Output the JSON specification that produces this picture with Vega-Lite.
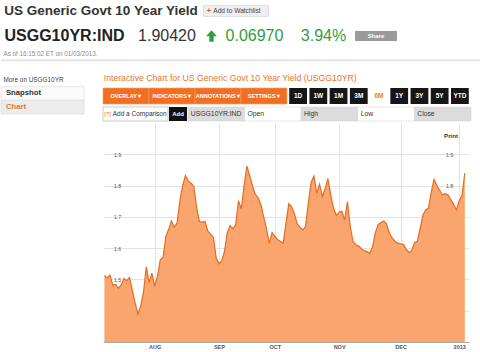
{
"$schema": "https://vega.github.io/schema/vega-lite/v6.json",
"background": "white",
"padding": 0,
"spacing": 0,
"config": {"font": "Liberation Sans", "view": {"stroke": null}, "concat": {"spacing": 0}},
"datasets": {
"yield": [
{"d":"2012-07-06","v":1.513},{"d":"2012-07-09","v":1.505},{"d":"2012-07-10","v":1.514},{"d":"2012-07-11","v":1.482},{"d":"2012-07-12","v":1.484},{"d":"2012-07-13","v":1.472},
{"d":"2012-07-16","v":1.482},{"d":"2012-07-17","v":1.503},{"d":"2012-07-18","v":1.496},{"d":"2012-07-19","v":1.506},{"d":"2012-07-20","v":1.465},
{"d":"2012-07-23","v":1.425},{"d":"2012-07-24","v":1.39},{"d":"2012-07-25","v":1.415},{"d":"2012-07-26","v":1.46},{"d":"2012-07-27","v":1.54},
{"d":"2012-07-30","v":1.49},{"d":"2012-07-31","v":1.52},
{"d":"2012-08-01","v":1.478},{"d":"2012-08-02","v":1.51},{"d":"2012-08-03","v":1.563},
{"d":"2012-08-06","v":1.57},{"d":"2012-08-07","v":1.638},{"d":"2012-08-08","v":1.66},{"d":"2012-08-09","v":1.687},{"d":"2012-08-10","v":1.667},
{"d":"2012-08-13","v":1.68},{"d":"2012-08-14","v":1.75},{"d":"2012-08-15","v":1.80},{"d":"2012-08-16","v":1.832},{"d":"2012-08-17","v":1.815},
{"d":"2012-08-20","v":1.808},{"d":"2012-08-21","v":1.798},{"d":"2012-08-22","v":1.73},{"d":"2012-08-23","v":1.685},{"d":"2012-08-24","v":1.683},
{"d":"2012-08-27","v":1.685},{"d":"2012-08-28","v":1.655},{"d":"2012-08-29","v":1.645},{"d":"2012-08-30","v":1.635},{"d":"2012-08-31","v":1.57},
{"d":"2012-09-03","v":1.55},{"d":"2012-09-04","v":1.56},{"d":"2012-09-05","v":1.59},{"d":"2012-09-06","v":1.65},{"d":"2012-09-07","v":1.672},
{"d":"2012-09-10","v":1.662},{"d":"2012-09-11","v":1.675},{"d":"2012-09-12","v":1.752},{"d":"2012-09-13","v":1.725},{"d":"2012-09-14","v":1.80},
{"d":"2012-09-17","v":1.862},{"d":"2012-09-18","v":1.832},{"d":"2012-09-19","v":1.80},{"d":"2012-09-20","v":1.772},{"d":"2012-09-21","v":1.762},
{"d":"2012-09-24","v":1.74},{"d":"2012-09-25","v":1.70},{"d":"2012-09-26","v":1.662},{"d":"2012-09-27","v":1.615},{"d":"2012-09-28","v":1.65},
{"d":"2012-10-01","v":1.638},{"d":"2012-10-02","v":1.628},{"d":"2012-10-03","v":1.621},{"d":"2012-10-04","v":1.616},{"d":"2012-10-05","v":1.68},
{"d":"2012-10-08","v":1.742},{"d":"2012-10-09","v":1.732},{"d":"2012-10-10","v":1.71},{"d":"2012-10-11","v":1.678},{"d":"2012-10-12","v":1.667},
{"d":"2012-10-15","v":1.658},{"d":"2012-10-16","v":1.67},{"d":"2012-10-17","v":1.745},{"d":"2012-10-18","v":1.81},{"d":"2012-10-19","v":1.83},
{"d":"2012-10-22","v":1.775},{"d":"2012-10-23","v":1.805},{"d":"2012-10-24","v":1.765},{"d":"2012-10-25","v":1.79},{"d":"2012-10-26","v":1.822},
{"d":"2012-10-29","v":1.77},{"d":"2012-10-30","v":1.728},{"d":"2012-10-31","v":1.705},
{"d":"2012-11-01","v":1.715},{"d":"2012-11-02","v":1.718},
{"d":"2012-11-05","v":1.69},{"d":"2012-11-06","v":1.748},{"d":"2012-11-07","v":1.668},{"d":"2012-11-08","v":1.622},{"d":"2012-11-09","v":1.611},
{"d":"2012-11-12","v":1.607},{"d":"2012-11-13","v":1.598},{"d":"2012-11-14","v":1.592},{"d":"2012-11-15","v":1.589},{"d":"2012-11-16","v":1.583},
{"d":"2012-11-19","v":1.605},{"d":"2012-11-20","v":1.65},{"d":"2012-11-21","v":1.676},{"d":"2012-11-22","v":1.682},{"d":"2012-11-23","v":1.687},
{"d":"2012-11-26","v":1.678},{"d":"2012-11-27","v":1.648},{"d":"2012-11-28","v":1.633},{"d":"2012-11-29","v":1.622},{"d":"2012-11-30","v":1.616},
{"d":"2012-12-03","v":1.614},{"d":"2012-12-04","v":1.612},{"d":"2012-12-05","v":1.597},{"d":"2012-12-06","v":1.586},{"d":"2012-12-07","v":1.592},
{"d":"2012-12-10","v":1.618},{"d":"2012-12-11","v":1.622},{"d":"2012-12-12","v":1.662},{"d":"2012-12-13","v":1.705},{"d":"2012-12-14","v":1.722},
{"d":"2012-12-17","v":1.728},{"d":"2012-12-18","v":1.78},{"d":"2012-12-19","v":1.82},{"d":"2012-12-20","v":1.80},{"d":"2012-12-21","v":1.785},
{"d":"2012-12-24","v":1.77},{"d":"2012-12-25","v":1.775},{"d":"2012-12-26","v":1.77},{"d":"2012-12-27","v":1.755},{"d":"2012-12-28","v":1.74},
{"d":"2012-12-31","v":1.722},{"d":"2013-01-01","v":1.752},{"d":"2013-01-02","v":1.768},{"d":"2013-01-03","v":1.84}
]
},
"vconcat": [
{
"hconcat": [
{"width": 200, "height": 22, "data": {"values": [{"t": "US Generic Govt 10 Year Yield"}]},
 "mark": {"type": "text", "fontSize": 13.5, "fontWeight": "bold", "color": "#333333"},
 "encoding": {"text": {"field": "t"}}},
{"width": 70, "height": 22, "data": {"values": [{"t": "+", "kind": "plus"}, {"t": "Add to Watchlist", "kind": "label"}]},
 "encoding": {"x": {"datum": "watch", "type": "nominal", "axis": null, "scale": {"paddingInner": 0, "paddingOuter": 0.0385}},
              "y": {"datum": "watch", "type": "nominal", "axis": null, "scale": {"paddingInner": 0, "paddingOuter": 0.5}}},
 "layer": [
  {"transform": [{"filter": "datum.kind == 'label'"}],
   "mark": {"type": "rect", "fill": "#efefef", "stroke": "#d4d4d4", "strokeWidth": 0.7}},
  {"transform": [{"filter": "datum.kind == 'plus'"}],
   "mark": {"type": "text", "align": "left", "fontSize": 7.5, "fontWeight": "bold", "color": "#e0502a"},
   "encoding": {"text": {"field": "t"}, "x": {"datum": "watch", "type": "nominal", "bandPosition": 0.05}}},
  {"transform": [{"filter": "datum.kind == 'label'"}],
   "mark": {"type": "text", "align": "left", "fontSize": 6.6, "color": "#444444"},
   "encoding": {"text": {"field": "t"}, "x": {"datum": "watch", "type": "nominal", "bandPosition": 0.15}}}
 ]}
], "spacing": 0
},
{
"hconcat": [
{"width": 127, "height": 28, "data": {"values": [{"t": "USGG10YR:IND"}]},
 "mark": {"type": "text", "fontSize": 16, "fontWeight": "bold", "color": "#222222"}, "encoding": {"text": {"field": "t"}}},
{"width": 78, "height": 28, "data": {"values": [{"t": "1.90420"}]},
 "mark": {"type": "text", "fontSize": 16, "color": "#333333"}, "encoding": {"text": {"field": "t"}}},
{"width": 11, "height": 28, "data": {"values": [{"t": "up"}]},
 "mark": {"type": "point", "filled": true, "opacity": 1, "size": 130, "color": "#2f9e3f",
          "shape": "M0,-1L0.95,0.05L0.38,0.05L0.38,1L-0.38,1L-0.38,0.05L-0.95,0.05Z"},
 "encoding": {}},
{"width": 75, "height": 28, "data": {"values": [{"t": "0.06970"}]},
 "mark": {"type": "text", "fontSize": 16, "color": "#2f9e3f"}, "encoding": {"text": {"field": "t"}}},
{"width": 63, "height": 28, "data": {"values": [{"t": "3.94%"}]},
 "mark": {"type": "text", "fontSize": 16, "color": "#2f9e3f"}, "encoding": {"text": {"field": "t"}}},
{"width": 42, "height": 28, "data": {"values": [{"t": "Share"}]},
 "encoding": {"y": {"field": "t", "type": "nominal", "axis": null, "scale": {"paddingInner": 0, "paddingOuter": 0.9}}},
 "layer": [
  {"mark": {"type": "rect", "fill": "#9a9a9a"},
   "encoding": {"x": {"field": "t", "type": "nominal", "axis": null, "scale": {"paddingInner": 0, "paddingOuter": 0}}}},
  {"mark": {"type": "text", "fontSize": 6, "fontWeight": "bold", "color": "#ffffff"}, "encoding": {"text": {"field": "t"}}}
 ]}
], "spacing": 0
},
{"width": 99, "height": 7, "data": {"values": [{"t": "As of 16:15:02 ET on 01/03/2013."}]},
 "mark": {"type": "text", "fontSize": 6.3, "color": "#8a8a8a"}, "encoding": {"text": {"field": "t"}}},
{"width": 480, "height": 5, "data": {"values": [{"t": "separator"}]},
 "mark": {"type": "rect", "fill": "#e2e2e2"},
 "encoding": {"x": {"field": "t", "type": "nominal", "axis": null, "scale": {"paddingInner": 0, "paddingOuter": 0}},
              "y": {"field": "t", "type": "nominal", "axis": null, "scale": {"paddingInner": 0, "paddingOuter": 2, "align": 0.75}}}},
{
"hconcat": [
{"width": 100, "height": 52,
 "data": {"values": [{"t": "More on USGG10YR", "kind": "head"}, {"t": "Snapshot", "kind": "item"}, {"t": "Chart", "kind": "current"}]},
 "encoding": {"y": {"field": "t", "type": "nominal", "axis": null, "scale": {"domain": ["More on USGG10YR", "Snapshot", "Chart"], "paddingInner": 0, "paddingOuter": 0.4, "align": 1}}},
 "layer": [
  {"transform": [{"filter": "datum.kind != 'head'"}],
   "mark": {"type": "rect", "stroke": "#dddddd", "strokeWidth": 0.7},
   "encoding": {"x": {"datum": "side", "type": "nominal", "axis": null, "scale": {"paddingInner": 0, "paddingOuter": 0.1024, "align": 0}},
                "color": {"condition": {"test": "datum.kind == 'current'", "value": "#ececec"}, "value": "#fbfbfb"}}},
  {"transform": [{"filter": "datum.kind == 'head'"}],
   "mark": {"type": "text", "align": "left", "fontSize": 6.4, "color": "#444444"},
   "encoding": {"x": {"datum": "side", "type": "nominal", "bandPosition": 0.03}, "text": {"field": "t"}}},
  {"transform": [{"filter": "datum.kind != 'head'"}],
   "mark": {"type": "text", "align": "left", "fontSize": 7.7, "fontWeight": "bold"},
   "encoding": {"x": {"datum": "side", "type": "nominal", "bandPosition": 0.06}, "text": {"field": "t"},
                "color": {"condition": {"test": "datum.kind == 'current'", "value": "#e8762b"}, "value": "#333333"}}}
 ]},
{
"vconcat": [
 {"width": 366, "height": 25, "data": {"values": [{"t": "Interactive Chart for US Generic Govt 10 Year Yield (USGG10YR)"}]},
  "encoding": {"x": {"datum": "heading", "type": "nominal", "axis": null, "scale": {"paddingInner": 0, "paddingOuter": 0}},
               "y": {"datum": "heading", "type": "nominal", "axis": null, "scale": {"paddingInner": 0, "paddingOuter": 0.75, "align": 0.733}}},
  "layer": [
   {"mark": {"type": "rect", "fill": "#ffffff"}},
   {"mark": {"type": "text", "align": "left", "fontSize": 8.7, "color": "#e8762b"},
    "encoding": {"text": {"field": "t"}, "x": {"datum": "heading", "type": "nominal", "bandPosition": 0.002}}}
  ]},
 {"hconcat": [
  {"width": 184, "height": 17,
   "data": {"values": [{"t": "OVERLAY ▾"}, {"t": "INDICATORS ▾"}, {"t": "ANNOTATIONS ▾"}, {"t": "SETTINGS ▾"}]},
   "encoding": {"x": {"field": "t", "type": "nominal", "axis": null, "sort": null, "scale": {"paddingInner": 0, "paddingOuter": 0}},
                "y": {"datum": "menu", "type": "nominal", "axis": null, "scale": {"paddingInner": 0, "paddingOuter": 0.03125, "align": 0}}},
   "layer": [
    {"mark": {"type": "rect", "fill": "#f26f21", "stroke": "#f7a36b", "strokeWidth": 0.6}},
    {"mark": {"type": "text", "fontSize": 5.6, "fontWeight": "bold", "color": "#ffffff"}, "encoding": {"text": {"field": "t"}}}
   ]},
  {"width": 182, "height": 17,
   "data": {"values": [{"t": "1D", "kind": "r"}, {"t": "1W", "kind": "r"}, {"t": "1M", "kind": "r"}, {"t": "3M", "kind": "r"}, {"t": "6M", "kind": "sel"}, {"t": "1Y", "kind": "r"}, {"t": "3Y", "kind": "r"}, {"t": "5Y", "kind": "r"}, {"t": "YTD", "kind": "r"}]},
   "encoding": {"x": {"field": "t", "type": "nominal", "axis": null, "sort": null, "scale": {"paddingInner": 0.12, "paddingOuter": 0.06}},
                "y": {"datum": "range", "type": "nominal", "axis": null, "scale": {"paddingInner": 0, "paddingOuter": 0.03125, "align": 0}}},
   "layer": [
    {"mark": {"type": "rect"}, "encoding": {"color": {"condition": {"test": "datum.kind == 'sel'", "value": "#ffffff"}, "value": "#161616"}}},
    {"mark": {"type": "text", "fontSize": 6.5, "fontWeight": "bold"},
     "encoding": {"text": {"field": "t"}, "color": {"condition": {"test": "datum.kind == 'sel'", "value": "#f07a2a"}, "value": "#ffffff"}}}
   ]}
 ], "spacing": 0},
 {"hconcat": [
  {"width": 65, "height": 18,
   "data": {"values": [{"t": "[?]", "kind": "icon"}, {"t": "Add a Comparison", "kind": "label"}]},
   "encoding": {"x": {"datum": "input", "type": "nominal", "axis": null, "scale": {"paddingInner": 0, "paddingOuter": 0}},
                "y": {"datum": "input", "type": "nominal", "axis": null, "scale": {"paddingInner": 0, "paddingOuter": 0.143}}},
   "layer": [
    {"transform": [{"filter": "datum.kind == 'label'"}], "mark": {"type": "rect", "fill": "#ffffff", "stroke": "#b5b5b5", "strokeWidth": 0.7}},
    {"transform": [{"filter": "datum.kind == 'icon'"}], "mark": {"type": "text", "align": "left", "fontSize": 6, "color": "#e8762b"},
     "encoding": {"text": {"field": "t"}, "x": {"datum": "input", "type": "nominal", "bandPosition": 0.02}}},
    {"transform": [{"filter": "datum.kind == 'label'"}], "mark": {"type": "text", "align": "left", "fontSize": 6.5, "color": "#333333"},
     "encoding": {"text": {"field": "t"}, "x": {"datum": "input", "type": "nominal", "bandPosition": 0.15}}}
   ]},
  {"width": 18, "height": 18, "data": {"values": [{"t": "Add"}]},
   "encoding": {"x": {"field": "t", "type": "nominal", "axis": null, "scale": {"paddingInner": 0, "paddingOuter": 0}},
                "y": {"field": "t", "type": "nominal", "axis": null, "scale": {"paddingInner": 0, "paddingOuter": 0.143}}},
   "layer": [
    {"mark": {"type": "rect", "fill": "#111111"}},
    {"mark": {"type": "text", "fontSize": 6, "fontWeight": "bold", "color": "#ffffff"}, "encoding": {"text": {"field": "t"}}}
   ]},
  {"width": 283, "height": 18,
   "data": {"values": [{"t": "USGG10YR:IND", "kind": "g"}, {"t": "Open", "kind": "w"}, {"t": "High", "kind": "g"}, {"t": "Low", "kind": "w"}, {"t": "Close", "kind": "g"}]},
   "encoding": {"x": {"field": "t", "type": "nominal", "axis": null, "sort": null, "scale": {"paddingInner": 0, "paddingOuter": 0}},
                "y": {"datum": "fields", "type": "nominal", "axis": null, "scale": {"paddingInner": 0, "paddingOuter": 0.143}}},
   "layer": [
    {"mark": {"type": "rect", "stroke": "#d0d0d0", "strokeWidth": 0.5},
     "encoding": {"color": {"condition": {"test": "datum.kind == 'g'", "value": "#dcdcdc"}, "value": "#ffffff"}}},
    {"mark": {"type": "text", "align": "left", "fontSize": 6.8, "color": "#333333"},
     "encoding": {"text": {"field": "t"}, "x": {"field": "t", "type": "nominal", "sort": null, "bandPosition": 0.05}}}
   ]}
 ], "spacing": 0},
 {"width": 366, "height": 219,
  "data": {"name": "yield"},
  "title": {"text": "Print", "anchor": "end", "fontSize": 6.1, "fontWeight": "bold", "color": "#333333", "offset": -16, "dx": -11},
  "encoding": {
   "x": {"field": "d", "type": "ordinal",
         "scale": {"type": "point", "padding": 2.186, "align": 0.25},
         "axis": {"values": ["2012-08-01", "2012-09-03", "2012-10-01", "2012-11-01", "2012-12-03", "2013-01-01"],
                  "labelExpr": "datum.value == '2013-01-01' ? '2013' : upper(utcFormat(toDate(datum.value), '%b'))",
                  "grid": true, "gridColor": "#e3e3e3", "domain": true, "domainColor": "#aaaaaa", "ticks": false,
                  "labelPadding": 2, "labelFontSize": 5.5, "labelFontWeight": "bold", "labelColor": "#555555", "labelAngle": 0, "title": null}}
  },
  "layer": [
   {"mark": {"type": "area", "fill": "#f9a56d"},
    "encoding": {
     "y": {"field": "v", "type": "quantitative",
           "scale": {"domain": [1.3, 2.0], "zero": false, "nice": false},
           "axis": {"orient": "left", "values": [1.4, 1.5, 1.6, 1.7, 1.8, 1.9], "format": ".1f", "grid": true, "gridColor": "#e3e3e3",
                    "domain": false, "ticks": false, "tickSize": 0, "labelPadding": -14, "labelAlign": "center", "minExtent": 0,
                    "labelFontSize": 5.2, "labelColor": "#555555", "title": null}},
     "y2": {"datum": 1.3}}},
   {"mark": {"type": "line", "stroke": "#e56c20", "strokeWidth": 1.2},
    "encoding": {
     "y": {"field": "v", "type": "quantitative",
           "axis": {"orient": "right", "values": [1.4, 1.5, 1.6, 1.7, 1.8, 1.9], "format": ".1f", "grid": false,
                    "domain": false, "ticks": false, "tickSize": 0, "labelPadding": -20, "labelAlign": "center", "minExtent": 0,
                    "labelFontSize": 5.2, "labelColor": "#555555", "title": null}}}}
  ],
  "resolve": {"axis": {"y": "independent"}}
 }
], "spacing": 0}
], "spacing": 0}
]
}
